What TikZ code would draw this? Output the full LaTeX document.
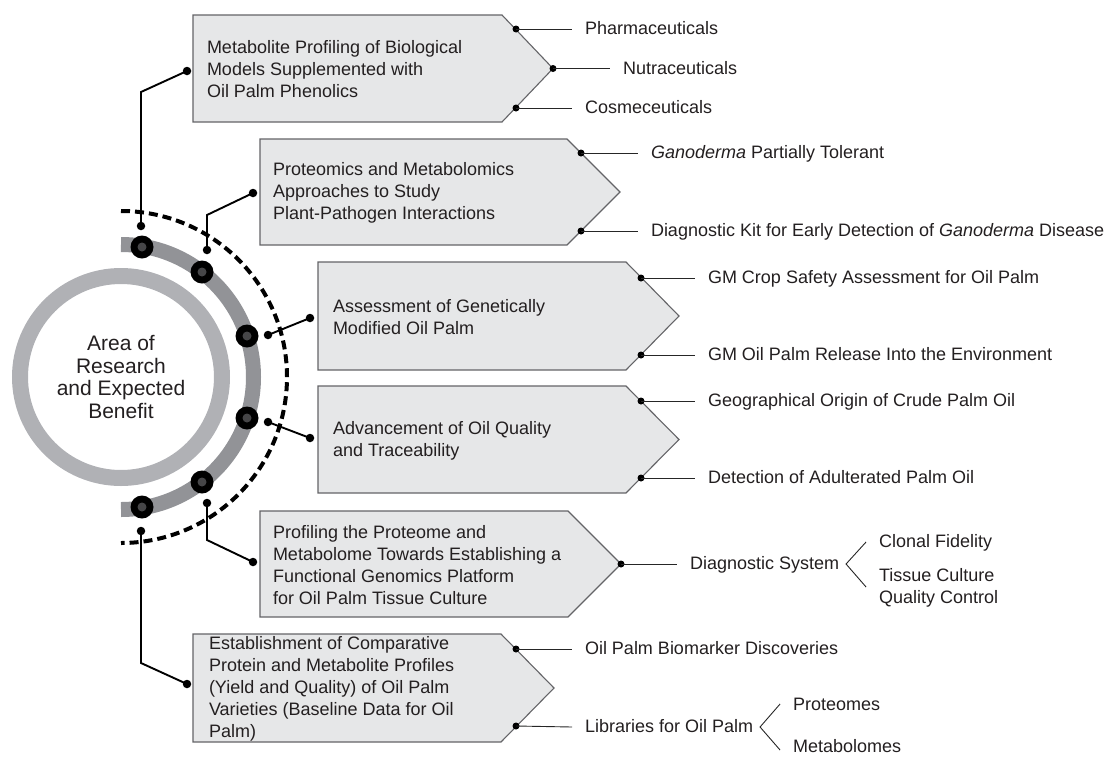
\documentclass[tikz,border=0pt]{standalone}
\usepackage{fontspec}
\setmainfont{Liberation Sans}
\definecolor{txt}{RGB}{35,31,32}
\definecolor{boxfill}{RGB}{230,231,232}
\definecolor{boxline}{RGB}{100,100,103}
\definecolor{ringlight}{RGB}{176,177,181}
\definecolor{ringdark}{RGB}{146,147,151}
\definecolor{innergray}{RGB}{70,70,72}
\begin{document}
\begin{tikzpicture}[x=1pt,y=-1pt,
  every node/.style={text=txt, inner sep=0pt, outer sep=0pt},
  lbl/.style={font=\fontsize{18}{22}\selectfont, anchor=west, text height=11pt, text depth=0pt},
  boxtxt/.style={font=\fontsize{18}{22}\selectfont, anchor=west, align=left},
  pent/.style={draw=boxline, fill=boxfill, line width=1.1pt},
  conn/.style={line width=1.9pt, black},
  thinline/.style={line width=0.9pt, black!85},
  edot/.style={circle, fill=black, minimum size=7pt},
  sdot/.style={circle, fill=black, minimum size=8.5pt},
  bigdot/.style={circle, fill=black, minimum size=23pt}
]
\useasboundingbox (0,0) rectangle (1111,758);
\coordinate (ctr) at (121,377);
% rings
\draw[ringlight, line width=16pt] (ctr) circle[radius=101];
\draw[ringdark, line width=15pt] (121,244.5) arc[start angle=-90, end angle=90, radius=132.5];
\draw[black, line width=4pt, dash pattern=on 9pt off 5pt] (121,211) arc[start angle=-90, end angle=90, radius=166];
\node[align=center, font=\fontsize{21}{22.6}\selectfont] (title) at (ctr) {Area of\\Research\\and Expected\\Benefit};
% big dots
\foreach \n/\x/\y in {1/142/247, 2/202/272, 3/247/336, 4/247/418, 5/202/482, 6/142/507}{
  \node[bigdot] (k\n) at (\x,\y) {};
  \fill[innergray] (k\n.center) circle (4.5pt);
}
% boxes
\draw[pent] (193,15) -- (502,15) -- (553,68.5) -- (502,122) -- (193,122) -- cycle;
\draw[pent] (260,139) -- (567,139) -- (620,192) -- (567,245) -- (260,245) -- cycle;
\draw[pent] (318,262) -- (626,262) -- (679,316) -- (626,370) -- (318,370) -- cycle;
\draw[pent] (318,386) -- (626,386) -- (679,439.5) -- (626,493) -- (318,493) -- cycle;
\draw[pent] (260,511) -- (568,511) -- (621,564) -- (568,617) -- (260,617) -- cycle;
\draw[pent] (193,634) -- (501,634) -- (554,688) -- (501,742) -- (193,742) -- cycle;
% box texts
\node[boxtxt] (bt1) at (207,69) {Metabolite Profiling of Biological\\Models Supplemented with\\Oil Palm Phenolics};
\node[boxtxt] (bt2) at (273,193) {Proteomics and Metabolomics\\Approaches to Study\\Plant-Pathogen Interactions};
\node[boxtxt] (bt3) at (333,317) {Assessment of Genetically\\Modified Oil Palm};
\node[boxtxt] (bt4) at (333,441) {Advancement of Oil Quality\\and Traceability};
\node[boxtxt] (bt5) at (273,565) {Profiling the Proteome and\\Metabolome Towards Establishing a\\Functional Genomics Platform\\for Oil Palm Tissue Culture};
\node[boxtxt] (bt6) at (209,689) {Establishment of Comparative\\Protein and Metabolite Profiles\\(Yield and Quality) of Oil Palm\\Varieties (Baseline Data for Oil\\Palm)};
% left connectors
\node[sdot] (s1) at (141,226) {};
\node[sdot] (s2) at (207,250) {};
\node[sdot] (s3) at (268,335) {};
\node[sdot] (s4) at (268,422) {};
\node[sdot] (s5) at (207,503) {};
\node[sdot] (s6) at (141,531) {};
\node[sdot] (e1) at (187,71) {};
\node[sdot] (e2) at (253,193) {};
\node[sdot] (e3) at (310,318) {};
\node[sdot] (e4) at (310,438) {};
\node[sdot] (e5) at (253,562) {};
\node[sdot] (e6) at (187,684) {};
\coordinate (b1) at (141,92);
\coordinate (b2) at (207,215);
\coordinate (b5) at (207,540);
\coordinate (b6) at (141,663);
\draw[conn] (s1.center) -- (b1) -- (e1.center);
\draw[conn] (s2.center) -- (b2) -- (e2.center);
\draw[conn] (s3.center) -- (e3.center);
\draw[conn] (s4.center) -- (e4.center);
\draw[conn] (s5.center) -- (b5) -- (e5.center);
\draw[conn] (s6.center) -- (b6) -- (e6.center);
% right-side dots
\node[edot] (d11) at (516,29) {};
\node[edot] (d12) at (553,68.5) {};
\node[edot] (d13) at (516,108) {};
\node[edot] (d21) at (581,153) {};
\node[edot] (d22) at (581,231) {};
\node[edot] (d31) at (641,278) {};
\node[edot] (d32) at (641,355) {};
\node[edot] (d41) at (641,401) {};
\node[edot] (d42) at (641,478) {};
\node[edot] (d51) at (621,564) {};
\node[edot] (d61) at (516,649) {};
\node[edot] (d62) at (516,726) {};
% right-side labels
\node[lbl] (t11) at (585,29) {Pharmaceuticals};
\node[lbl] (t12) at (623,68.5) {Nutraceuticals};
\node[lbl] (t13) at (585,108) {Cosmeceuticals};
\node[lbl] (t21) at (651,153) {\textit{Ganoderma} Partially Tolerant};
\node[lbl] (t22) at (651,231) {Diagnostic Kit for Early Detection of \textit{Ganoderma} Disease};
\node[lbl] (t31) at (708,278) {GM Crop Safety Assessment for Oil Palm};
\node[lbl] (t32) at (708,355) {GM Oil Palm Release Into the Environment};
\node[lbl] (t41) at (708,401) {Geographical Origin of Crude Palm Oil};
\node[lbl] (t42) at (708,478) {Detection of Adulterated Palm Oil};
\node[lbl] (t51) at (690,564) {Diagnostic System};
\node[lbl] (t61) at (585,649) {Oil Palm Biomarker Discoveries};
\node[lbl] (t62) at (585,727) {Libraries for Oil Palm};
\foreach \a in {11,12,13,21,22,31,32,41,42,51,61,62}{
  \draw[thinline] (d\a.center) -- ([xshift=-13pt]t\a.west);
}
% brackets
\coordinate (p5) at ([xshift=7pt]t51.east);
\coordinate (p5a) at ([xshift=20pt,yshift=22pt]p5);
\coordinate (p5b) at ([xshift=20pt,yshift=-23pt]p5);
\draw[thinline] (p5a) -- (p5) -- (p5b);
\node[lbl] (t52) at ([xshift=13pt]p5a) {Clonal Fidelity};
\node[boxtxt] (t53) at ([xshift=13pt,yshift=-1pt]p5b) {Tissue Culture\\Quality Control};
\coordinate (p6) at ([xshift=7pt]t62.east);
\coordinate (p6a) at ([xshift=20pt,yshift=23pt]p6);
\coordinate (p6b) at ([xshift=20pt,yshift=-23pt]p6);
\draw[thinline] (p6a) -- (p6) -- (p6b);
\node[lbl] (t63) at ([xshift=13pt,yshift=-1pt]p6a) {Proteomes};
\node[lbl] (t64) at ([xshift=13pt,yshift=3pt]p6b) {Metabolomes};
\end{tikzpicture}
\end{document}
